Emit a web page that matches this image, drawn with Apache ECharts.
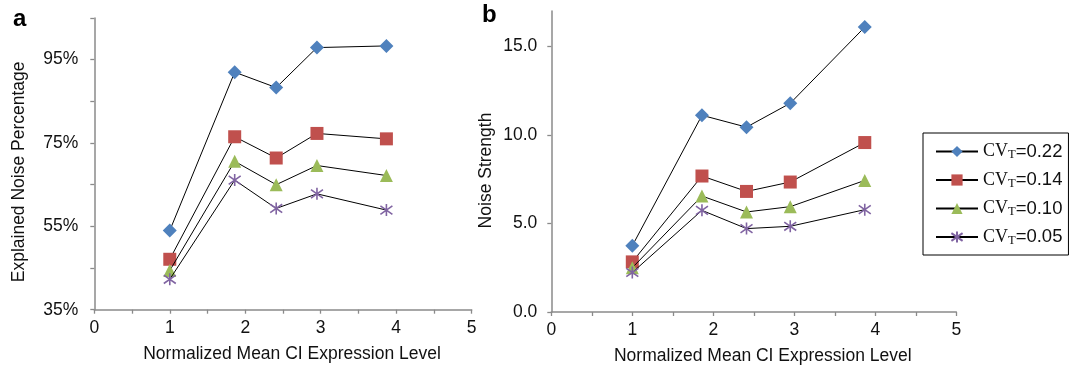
<!DOCTYPE html>
<html>
<head>
<meta charset="utf-8">
<script src="https://cdn.jsdelivr.net/npm/echarts@6/dist/echarts.min.js"></script>
<style>
html,body{margin:0;padding:0;background:#fff;}
#chart{width:1085px;height:370px;}
</style>
</head>
<body>
<div id="chart"></div>
<script>
// ---- data ----
var expressionLevels = [1.0, 1.86, 2.41, 2.95, 3.87];
var seriesNames = ['CVT=0.22', 'CVT=0.14', 'CVT=0.10', 'CVT=0.05'];
var pctCV22 = [54.0, 92.0, 88.3, 97.9, 98.3];
var pctCV14 = [47.1, 76.5, 71.4, 77.3, 76.0];
var pctCV10 = [44.4, 70.6, 65.0, 69.6, 67.2];
var pctCV05 = [42.3, 66.1, 59.3, 62.8, 58.9];
var strCV22 = [3.74, 11.11, 10.44, 11.79, 16.09];
var strCV14 = [2.83, 7.68, 6.81, 7.34, 9.57];
var strCV10 = [2.50, 6.55, 5.65, 5.95, 7.43];
var strCV05 = [2.23, 5.74, 4.71, 4.84, 5.78];
var pctTicks = [35, 55, 75, 95];
var strTicks = [0, 5, 10, 15];

var colors = ['#4f81bd', '#c0504d', '#9bbb59', '#8064a2'];
var starPath = 'path://M5,0L5,10M0.7,1.5L9.3,8.5M0.7,8.5L9.3,1.5';
var symbols = ['diamond', 'rect', 'triangle', starPath];
var symbolSizes = [14, 13, 13, 12];

function pairs(ys) { return ys.map(function (y, i) { return [expressionLevels[i], y]; }); }

var pctSets = [pctCV22, pctCV14, pctCV10, pctCV05];
var strSets = [strCV22, strCV14, strCV10, strCV05];

var axisGray = '#8a8a8a';
var font = 'Liberation Sans, Arial, sans-serif';

function xAxisCfg(gi) {
  return {
    type: 'value', gridIndex: gi, min: 0, max: 5, interval: 0.5,
    name: 'Normalized Mean CI Expression Level', nameLocation: 'middle', nameGap: 35,
    nameTextStyle: { fontFamily: font, fontSize: 17.5, color: '#111', padding: [0, 0, 0, 18] },
    axisLine: { show: true, onZero: false, lineStyle: { color: axisGray, width: 1.5 } },
    axisTick: { show: true, inside: false, length: 4, lineStyle: { color: axisGray, width: 1.3 } },
    splitLine: { show: false },
    axisLabel: {
      fontFamily: font, fontSize: 17.5, color: '#111', margin: 9,
      formatter: function (v) { return Math.abs(v - Math.round(v)) < 1e-6 ? String(Math.round(v)) : ''; }
    }
  };
}

var series = [];
seriesNames.forEach(function (n, i) {
  [0, 1].forEach(function (g) {
    series.push({
      type: 'line', name: n, xAxisIndex: g, yAxisIndex: g,
      data: pairs(g === 0 ? pctSets[i] : strSets[i]),
      symbol: symbols[i], symbolSize: symbolSizes[i], showAllSymbol: true,
      lineStyle: { color: '#000', width: 1 },
      itemStyle: { color: colors[i], borderColor: colors[i], borderWidth: i === 3 ? 1.6 : 0 },
      z: 2 + i, animation: false
    });
  });
});

var chart = echarts.init(document.getElementById('chart'));
chart.setOption({
  animation: false,
  grid: [
    { left: 94.3, top: 18, width: 377.4, height: 291.7 },
    { left: 551.3, top: 11, width: 405, height: 302 }
  ],
  xAxis: [xAxisCfg(0), xAxisCfg(1)],
  yAxis: [
    {
      type: 'value', gridIndex: 0, min: 35, max: 105, interval: 10,
      name: 'Explained Noise Percentage', nameLocation: 'middle', nameGap: 66,
      nameTextStyle: { fontFamily: font, fontSize: 17.5, color: '#111', padding: [0, 16, 0, 0] },
      axisLine: { show: true, lineStyle: { color: axisGray, width: 1.5 } },
      axisTick: { show: true, inside: false, length: 4, lineStyle: { color: axisGray, width: 1.3 } },
      splitLine: { show: false },
      axisLabel: {
        fontFamily: font, fontSize: 17.5, color: '#111', margin: 16,
        formatter: function (v) { return pctTicks.indexOf(Math.round(v)) >= 0 ? Math.round(v) + '%' : ''; }
      }
    },
    {
      type: 'value', gridIndex: 1, min: 0, max: 17, interval: 5,
      name: 'Noise Strength', nameLocation: 'middle', nameGap: 56,
      nameTextStyle: { fontFamily: font, fontSize: 17.5, color: '#111', padding: [0, 18, 0, 0] },
      axisLine: { show: true, lineStyle: { color: axisGray, width: 1.5 } },
      axisTick: { show: true, inside: false, length: 4, lineStyle: { color: axisGray, width: 1.3 } },
      splitLine: { show: false },
      axisLabel: {
        fontFamily: font, fontSize: 17.5, color: '#111', margin: 14, showMaxLabel: false,
        formatter: function (v) { return strTicks.indexOf(Math.round(v * 100) / 100) >= 0 ? v.toFixed(1) : ''; }
      }
    }
  ],
  legend: {
    data: seriesNames, orient: 'vertical', left: 923, top: 133,
    padding: [9, 6, 8, 12], itemGap: 9, itemWidth: 42, itemHeight: 14,
    borderColor: '#000', borderWidth: 1, backgroundColor: '#fff',
    selectedMode: false,
    formatter: function (name) { return '{cv|CV}{sub|T}{num|=' + name.split('=')[1] + '}'; },
    textStyle: {
      rich: {
        cv: { fontFamily: 'Liberation Serif, Times New Roman, serif', fontSize: 18, color: '#111', lineHeight: 20 },
        sub: { fontFamily: 'Liberation Serif, Times New Roman, serif', fontSize: 12.5, color: '#111', lineHeight: 10, verticalAlign: 'bottom' },
        num: { fontFamily: font, fontSize: 18.5, color: '#111', lineHeight: 20 }
      }
    }
  },
  graphic: [
    { type: 'text', left: 13, top: 7, style: { text: 'a', font: 'bold 24px Liberation Sans, Arial, sans-serif', fill: '#000' } },
    { type: 'text', left: 482, top: 3, style: { text: 'b', font: 'bold 24px Liberation Sans, Arial, sans-serif', fill: '#000' } }
  ],
  series: series
});
</script>
</body>
</html>
